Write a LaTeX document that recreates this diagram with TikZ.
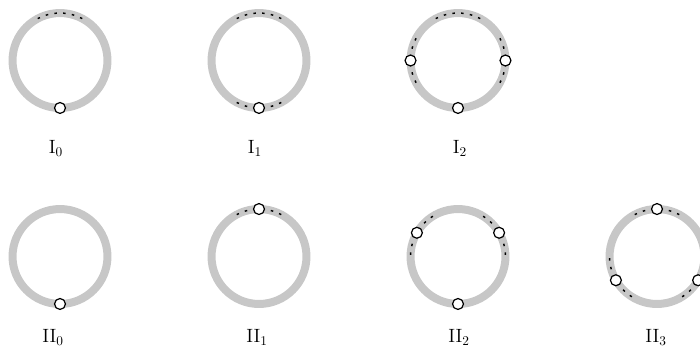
\documentclass[tikz,border=0pt]{standalone}
\usetikzlibrary{calc}
\tikzset{
  ring/.style={draw=black!22, line width=6pt},
  dotmark/.style={draw=black, line width=1.1pt},
  port/.style={circle, draw=black, fill=white, line width=0.9pt, inner sep=0pt, minimum size=8.2pt},
  lab/.style={anchor=base, inner sep=0pt, font=\fontsize{14}{16}\selectfont}
}
\newcommand\dotgroup[2]{%
  \foreach \dd in {-26.5,-15.9,-5.3,5.3,15.9,26.5}{%
    \pgfmathsetmacro\aa{#2+\dd-1.5}%
    \draw[dotmark] ([shift={(\aa:35.6pt)}]#1) arc[start angle=\aa, delta angle=3, radius=35.6pt];
  }}
\newcommand\ringat[1]{\draw[ring] (#1) circle[radius=35.6pt];}
\begin{document}
\begin{tikzpicture}[x=0.75pt,y=-0.75pt]
\useasboundingbox (0,0) rectangle (700,358);
\clip (0,0) rectangle (700,358);
% centers
\coordinate (c1) at (60,60.5);
\coordinate (c2) at (259,60.5);
\coordinate (c3) at (458,60.5);
\coordinate (c4) at (60,256.5);
\coordinate (c5) at (259,256.5);
\coordinate (c6) at (458,256.5);
\coordinate (c7) at (657,256.5);
% rings
\ringat{c1}\ringat{c2}\ringat{c3}\ringat{c4}\ringat{c5}\ringat{c6}\ringat{c7}
% dotted groups
\dotgroup{c1}{90}
\dotgroup{c2}{90}\dotgroup{c2}{270}
\dotgroup{c3}{90}\dotgroup{c3}{180}\dotgroup{c3}{0}
\dotgroup{c5}{90}
\dotgroup{c6}{30}\dotgroup{c6}{150}
\dotgroup{c7}{90}\dotgroup{c7}{210}\dotgroup{c7}{330}
% ports
\node[port] (p1a) at ([shift={(270:35.6pt)}]c1) {};
\node[port] (p2a) at ([shift={(270:35.6pt)}]c2) {};
\node[port] (p3a) at ([shift={(180:35.6pt)}]c3) {};
\node[port] (p3b) at ([shift={(0:35.6pt)}]c3) {};
\node[port] (p3c) at ([shift={(270:35.6pt)}]c3) {};
\node[port] (p4a) at ([shift={(270:35.6pt)}]c4) {};
\node[port] (p5a) at ([shift={(90:35.6pt)}]c5) {};
\node[port] (p6a) at ([shift={(30:35.6pt)}]c6) {};
\node[port] (p6b) at ([shift={(150:35.6pt)}]c6) {};
\node[port] (p6c) at ([shift={(270:35.6pt)}]c6) {};
\node[port] (p7a) at ([shift={(90:35.6pt)}]c7) {};
\node[port] (p7b) at ([shift={(210:35.6pt)}]c7) {};
\node[port] (p7c) at ([shift={(330:35.6pt)}]c7) {};
% labels
\node[lab] (l1) at (56,153.3) {$\mathrm{I}_0$};
\node[lab] (l2) at (255,153.3) {$\mathrm{I}_1$};
\node[lab] (l3) at (460,153.3) {$\mathrm{I}_2$};
\node[lab] (l4) at (53,342.7) {$\mathrm{II}_0$};
\node[lab] (l5) at (257,342.7) {$\mathrm{II}_1$};
\node[lab] (l6) at (459,342.7) {$\mathrm{II}_2$};
\node[lab] (l7) at (656,342.7) {$\mathrm{II}_3$};
\end{tikzpicture}
\end{document}
